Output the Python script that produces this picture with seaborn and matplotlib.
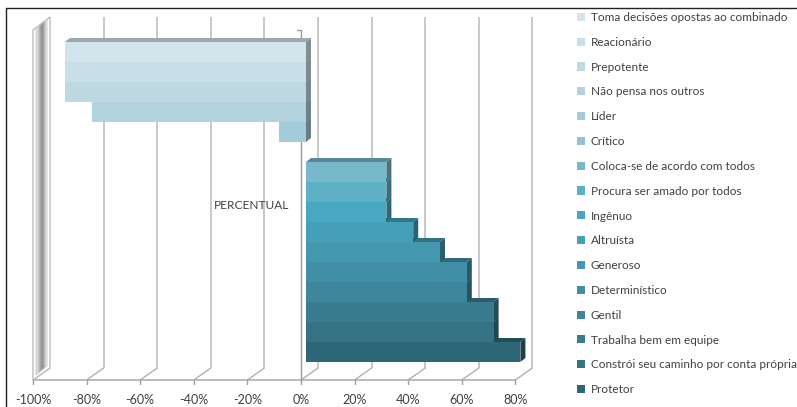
import numpy as np
import pandas as pd
import matplotlib
matplotlib.use("Agg")
import matplotlib.pyplot as plt
from matplotlib.patches import Polygon
from matplotlib.lines import Line2D
import matplotlib.colors as mcolors
import seaborn as sns

# ---- data -------------------------------------------------------------
atributos = [
    "Toma decisões opostas ao combinado",
    "Reacionário",
    "Prepotente",
    "Não pensa nos outros",
    "Líder",
    "Crítico",
    "Coloca-se de acordo com todos",
    "Procura ser amado por todos",
    "Ingênuo",
    "Altruísta",
    "Generoso",
    "Determinístico",
    "Gentil",
    "Trabalha bem em equipe",
    "Constrói seu caminho por conta própria",
    "Protetor",
]
percentuais = [-90, -90, -90, -80, -10, 0, 30, 30, 30, 40, 50, 60, 60, 70, 70, 80]
ticks = [-100, -80, -60, -40, -20, 0, 20, 40, 60, 80]
tick_labels = [f"{t}%" for t in ticks]
categoria = "PERCENTUAL"
cores = [
    "#d3e5ec", "#c9dfe8", "#bfd9e3", "#b2d2de", "#a4cbd9", "#95c3d4",
    "#78b8cb", "#5eb0c7", "#48a7c1", "#44a0b9", "#4398b0", "#408fa6",
    "#3d869b", "#397c90", "#347284", "#2d6777",
]

# ---- style ------------------------------------------------------------
sns.set_theme(style="white")
plt.rcParams["font.family"] = ["Lato", "DejaVu Sans"]
TXT = "#404040"
GRID = "#c4c4c4"

W, H = 797, 407
fig = plt.figure(figsize=(W / 100, H / 100), dpi=100)
XMIN, XMAX = -110, 95
YTOP, YBOT = -2.0, 16.65
ax = fig.add_axes([11.2 / W, 22 / H, 549.4 / W, 373 / H])

df = pd.DataFrame({"atributo": atributos, "valor": percentuais})
sns.barplot(data=df, x="valor", y="atributo", hue="atributo", palette=cores,
            orient="h", width=1.0, dodge=False, saturation=1, legend=True,
            linewidth=0, zorder=3, ax=ax)
handles, labels = ax.get_legend_handles_labels()
if ax.get_legend() is not None:
    ax.get_legend().remove()

ax.set_xlim(XMIN, XMAX)
ax.set_ylim(YBOT, YTOP)
ax.set_xticks([])
ax.set_yticks([])
ax.set_xlabel("")
ax.set_ylabel("")
for s in ax.spines.values():
    s.set_visible(False)
ax.patch.set_alpha(0)

# pixel <-> data helpers (depth of the 3D projection is given in pixels)
o = ax.transData.transform([(0, 0), (1, 1)])
sx = o[1][0] - o[0][0]
sy = abs(o[1][1] - o[0][1])
px = lambda p: p / sx          # horizontal pixels -> data x
up = lambda p: -p / sy         # pixels upward -> data y (axis inverted)

F_DX, B_DX = px(-5), px(12)    # front plane / back wall relative to bars
y_ff = 16.4                    # front edge of the floor
y_fb = y_ff + up(12)           # back edge of the floor
y_wt_f = -1.1                  # top of side wall, front
y_wt_b = y_wt_f + up(13)       # top of side wall, back

# back wall gridlines and floor diagonals
for t in ticks:
    if t > ticks[0]:
        ax.plot([t + B_DX, t + B_DX], [y_fb, y_wt_b], color=GRID, lw=1.3,
                zorder=0.5, solid_capstyle="butt")
    ax.plot([t + F_DX, t + B_DX], [y_ff, y_fb], color="#b0b0b0", lw=1.0, zorder=0.5)
    ax.plot([t + F_DX, t + F_DX], [y_ff, y_ff - up(5)], color="#a0a0a0", lw=1.0, zorder=0.5)
ax.plot([ticks[0] + F_DX, ticks[-1] + F_DX], [y_ff, y_ff], color="#a8a8a8", lw=1.1, zorder=0.6)

# category axis on the front plane
ax.plot([F_DX, F_DX], [y_wt_f, y_ff], color="#9a9a9a", lw=1.0, zorder=0.7)
ax.plot([F_DX + px(-4), F_DX], [y_wt_f, y_wt_f], color="#9a9a9a", lw=1.0, zorder=0.7)

# side wall at -100%
xf, xb = ticks[0] + F_DX, ticks[0] + B_DX
wall = Polygon([(xf, y_wt_f), (xb, y_wt_b), (xb, y_fb), (xf, y_ff)],
               closed=True, fc="white", ec="#bdbdbd", lw=1.0, zorder=0.8)
ax.add_patch(wall)
inner = Polygon([(xf + px(3), y_wt_f + up(2)), (xb - px(3), y_wt_b + up(1) + 0.15),
                 (xb - px(3), y_fb - 0.1), (xf + px(3), y_ff - 0.25)],
                closed=True, fc="none", ec="#c8c8c8", lw=0.6, zorder=0.95)
ax.add_patch(inner)
grad = np.array([[0.88, 0.82, 0.72, 0.62, 0.57, 0.62, 0.77, 0.9]])
img = ax.imshow(grad, cmap="gray", vmin=0, vmax=1, aspect="auto",
                extent=(xf + px(3), xb - px(3), y_ff, y_wt_b),
                interpolation="bicubic", zorder=0.9)
img.set_clip_path(inner)
ax.set_xlim(XMIN, XMAX)
ax.set_ylim(YBOT, YTOP)


def shade(c, f):
    r, g, b = mcolors.to_rgb(c)
    return (r * f, g * f, b * f)


# 3D top and end faces of every bar
bdx, bdy = px(5), up(4)
bars = [p for p in ax.patches if p.get_zorder() == 3]
for p, c in zip(bars, cores):
    x0, x1 = sorted([p.get_x(), p.get_x() + p.get_width()])
    y0, y1 = sorted([p.get_y(), p.get_y() + p.get_height()])
    if x1 - x0 < 1e-9:
        continue
    ax.add_patch(Polygon([(x0, y0), (x1, y0), (x1 + bdx, y0 + bdy), (x0 + bdx, y0 + bdy)],
                         closed=True, fc=shade(c, 0.74), ec="none", zorder=2))
    ax.add_patch(Polygon([(x1, y0), (x1, y1), (x1 + bdx, y1 + bdy), (x1 + bdx, y0 + bdy)],
                         closed=True, fc=shade(c, 0.62), ec="none", zorder=2.5))

# value axis labels on the front floor edge
for t, lab in zip(ticks, tick_labels):
    ax.text(t + F_DX, y_ff - up(24.5), lab, ha="center", va="baseline",
            fontsize=9, color=TXT)

# category label
ax.text(F_DX + px(-12), 7.5 - up(3.6), categoria, ha="right", va="center",
        fontsize=8.6, color=TXT)

# legend
fig.legend(handles, labels, loc="upper left", bbox_to_anchor=(577 / W, 1 - 12 / H),
           frameon=False, fontsize=8.5, handlelength=0.68, handleheight=0.68,
           handletextpad=0.5, labelspacing=1.17, borderpad=0, borderaxespad=0,
           labelcolor=TXT)

# outer frame (left and top edges)
fig.add_artist(Line2D([5.5 / W, 5.5 / W], [0, 1 - 8 / H], transform=fig.transFigure,
                      color="#222222", lw=1.0))
fig.add_artist(Line2D([5.5 / W, 1], [1 - 8 / H, 1 - 8 / H], transform=fig.transFigure,
                      color="#222222", lw=1.0))

fig.savefig("out.png", dpi=100)
